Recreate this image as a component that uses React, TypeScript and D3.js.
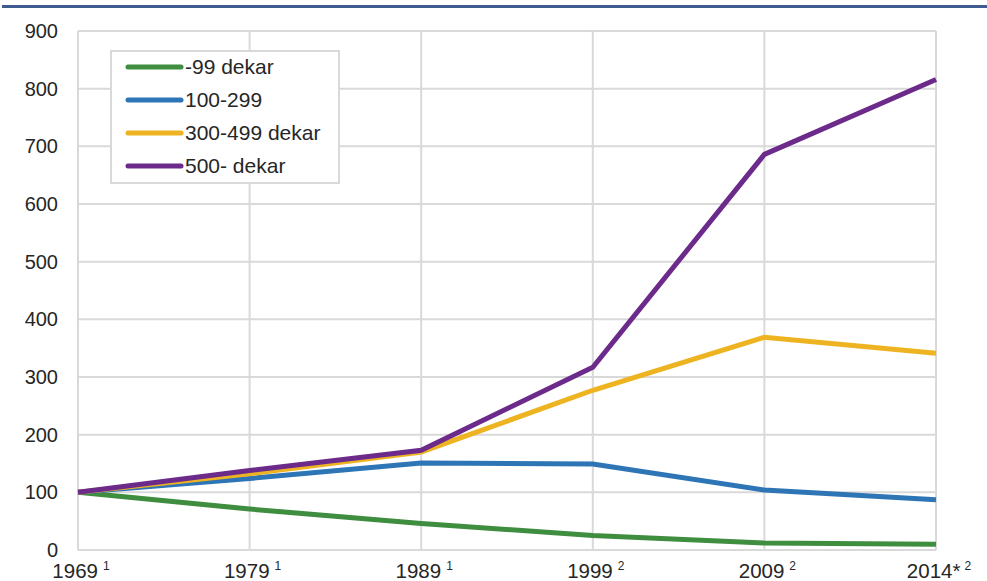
import React from "react";
import * as d3 from "d3";

const categories = ["1969", "1979", "1989", "1999", "2009", "2014*"];
const superscripts = ["1", "1", "1", "2", "2", "2"];
const yTicks = [0, 100, 200, 300, 400, 500, 600, 700, 800, 900];

const seriesNames = ["-99 dekar", "100-299", "300-499 dekar", "500- dekar"];
const seriesColors = ["#3f8d3f", "#2e75b6", "#eeb321", "#6c2a8a"];
const green = [100, 71, 46, 25, 12, 10];
const blue = [100, 124, 151, 149, 104, 87];
const yellow = [100, 132, 170, 277, 369, 341];
const purple = [100, 138, 173, 317, 686, 816];
const seriesValues = [green, blue, yellow, purple];

const W = 987;
const H = 581;
const left = 78;
const right = 936;
const top = 31;
const bottom = 550;

export default function App() {
  const x = d3.scalePoint<string>().domain(categories).range([left, right]);
  const y = d3.scaleLinear().domain([0, 900]).range([bottom, top]);
  const line = d3
    .line<number>()
    .x((_, i) => x(categories[i]) as number)
    .y((d) => y(d));
  const font = "'Liberation Sans', Arial, sans-serif";
  const grid = "#d9d9d9";

  return (
    <svg
      width={W}
      height={H}
      style={{ position: "fixed", left: 0, top: 0, background: "#fff" }}
      fontFamily={font}
    >
      <rect x={2} y={5} width={W - 2} height={3} fill="#3f5b8f" />
      {yTicks.map((t) => (
        <line key={"h" + t} x1={left} x2={right} y1={y(t)} y2={y(t)} stroke={grid} strokeWidth={2} />
      ))}
      {categories.map((c) => (
        <line key={"v" + c} x1={x(c)} x2={x(c)} y1={top} y2={bottom} stroke={grid} strokeWidth={2} />
      ))}
      {yTicks.map((t) => (
        <text key={"yt" + t} x={58} y={y(t)} dy="0.35em" textAnchor="end" fontSize={20} fill="#262626">
          {t}
        </text>
      ))}
      {categories.map((c, i) => (
        <text key={"xt" + c} x={(x(c) as number) + 3} y={578} textAnchor="middle" fontSize={20.5} fill="#262626">
          {c}
          <tspan fontSize={12} dx={c.endsWith("*") ? 4 : 5} dy={-8}>
            {superscripts[i]}
          </tspan>
        </text>
      ))}
      {seriesValues.map((vals, si) => (
        <path
          key={"s" + si}
          d={line(vals) || ""}
          fill="none"
          stroke={seriesColors[si]}
          strokeWidth={5}
          strokeLinejoin="miter"
        />
      ))}
      <rect x={111} y={51} width={228} height={132} fill="#fff" stroke={grid} strokeWidth={2} />
      {seriesNames.map((n, i) => {
        const ly = 67 + i * 33;
        return (
          <g key={"lg" + i}>
            <line x1={128} x2={181} y1={ly} y2={ly} stroke={seriesColors[i]} strokeWidth={5} strokeLinecap="round" />
            <text x={185} y={ly} dy="0.35em" fontSize={21} fill="#262626">
              {n}
            </text>
          </g>
        );
      })}
    </svg>
  );
}
